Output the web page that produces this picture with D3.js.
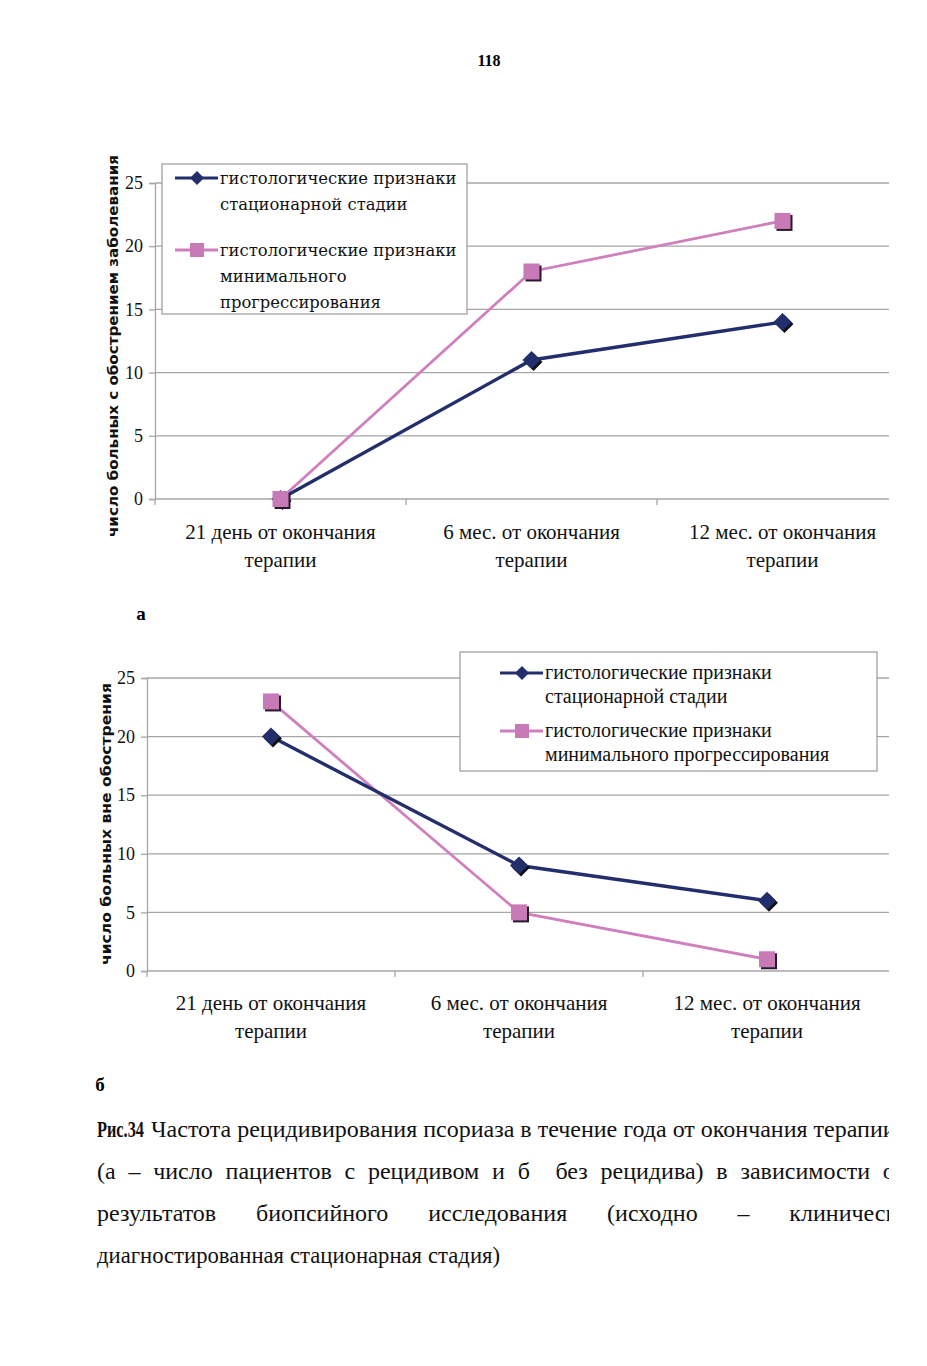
<!DOCTYPE html>
<html>
<head>
<meta charset="utf-8">
<script src="https://cdn.jsdelivr.net/npm/d3@7"></script>
<style>
  body { margin: 0; background: #fff; }
  svg { display: block; }
</style>
</head>
<body>
<svg id="page"></svg>
<script>
// categories on x axis (two lines each)
const categories = [
  ["21 день от окончания", "терапии"],
  ["6 мес. от окончания", "терапии"],
  ["12 мес. от окончания", "терапии"]
]
const yTicks = [0, 5, 10, 15, 20, 25]
const seriesNames = ["гистологические признаки стационарной стадии", "гистологические признаки минимального прогрессирования"]

// chart а - with exacerbation
const stationaryA = [0, 11, 14]
const progressA = [0, 18, 22]
// chart б - without exacerbation
const stationaryB = [20, 9, 6]
const progressB = [23, 5, 1]

const captionLines = [
  ["Частота", "рецидивирования", "псориаза", "в", "течение", "года", "от", "окончания", "терапии"],
  ["(а", "–", "число", "пациентов", "с", "рецидивом", "и", "б", "", "без", "рецидива)", "в", "зависимости", "от"],
  ["результатов", "биопсийного", "исследования", "(исходно", "–", "клинически"],
  ["диагностированная", "стационарная", "стадия)"]
]

const NAVY = "#232f6c", PINK = "#d07fbe", GRID = "#a6a6a6"

const svg = d3.select("#page").attr("width", 927).attr("height", 1366)
svg.append("defs").append("clipPath").attr("id", "pg")
  .append("rect").attr("x", 0).attr("y", 0).attr("width", 889).attr("height", 1366)
const root = svg.append("g").attr("clip-path", "url(#pg)")

// page number
root.append("text").attr("x", 489).attr("y", 66).attr("text-anchor", "middle")
  .style("font-family", "Liberation Serif").style("font-weight", "bold").style("font-size", "16px")
  .text("118")

function drawChart(cfg){
  const g = root.append("g")
  const x = d3.scaleBand().domain(d3.range(categories.length)).range([cfg.left, cfg.right])
  const y = d3.scaleLinear().domain([0, 25]).range([cfg.bottom, cfg.top])

  // grid lines
  g.append("g").selectAll("line").data(yTicks).join("line")
    .attr("x1", cfg.left).attr("x2", 889)
    .attr("y1", d => y(d)).attr("y2", d => y(d))
    .attr("stroke", GRID).attr("stroke-width", 1.3)

  // y axis
  const yAx = g.append("g").attr("transform", `translate(${cfg.left},0)`)
    .call(d3.axisLeft(y).tickValues(yTicks).tickSize(6).tickPadding(6))
  yAx.select(".domain").attr("stroke", GRID).attr("stroke-width", 1.3)
  yAx.selectAll(".tick line").attr("stroke", GRID).attr("stroke-width", 1.3)
  yAx.selectAll("text").style("font-family", "Liberation Serif").style("font-size", "18px").attr("fill", "#111")

  // x axis tick marks at band edges
  const edges = d3.range(categories.length + 1).map(i => cfg.left + i * x.step())
  g.append("g").selectAll("line").data(edges).join("line")
    .attr("x1", d => d).attr("x2", d => d)
    .attr("y1", cfg.bottom).attr("y2", cfg.bottom + 6)
    .attr("stroke", GRID).attr("stroke-width", 1.3)

  // category labels
  const lab = g.append("g").selectAll("text").data(categories).join("text")
    .attr("text-anchor", "middle")
    .style("font-family", "Liberation Serif").style("font-size", "21px").attr("fill", "#111")
  lab.each(function(d, i){
    d3.select(this).selectAll("tspan").data(d).join("tspan")
      .attr("x", x(i) + x.bandwidth() / 2)
      .attr("y", (t, j) => cfg.bottom + cfg.labOff + j * 27.5)
      .text(t => t)
  })

  // y title
  g.append("text")
    .attr("transform", `translate(${cfg.titleX},${(cfg.titleY0 + cfg.titleY1) / 2}) rotate(-90)`)
    .attr("text-anchor", "middle")
    .attr("textLength", cfg.titleY1 - cfg.titleY0).attr("lengthAdjust", "spacingAndGlyphs")
    .style("font-family", "DejaVu Sans").style("font-weight", "bold").style("font-size", "13.5px").attr("fill", "#111")
    .text(cfg.title)

  const line = d3.line().x((d, i) => x(i) + x.bandwidth() / 2).y(d => y(d))
  const cx = i => x(i) + x.bandwidth() / 2

  // pink series
  g.append("path").datum(cfg.pink).attr("d", line).attr("fill", "none")
    .attr("stroke", PINK).attr("stroke-width", 2.8)
  // navy series
  g.append("path").datum(cfg.navy).attr("d", line).attr("fill", "none")
    .attr("stroke", NAVY).attr("stroke-width", 3.4)

  const drawSquares = (data) => {
    const s = g.append("g").selectAll("g").data(data).join("g")
      .attr("transform", (d, i) => `translate(${cx(i)},${y(d)})`)
    s.append("rect").attr("x", -6).attr("y", -6).attr("width", 16).attr("height", 16).attr("fill", "#2a1a30")
    s.append("rect").attr("x", -8).attr("y", -8).attr("width", 16).attr("height", 16).attr("fill", "#c77ab6")
  }
  const drawDiamonds = (data) => {
    const s = g.append("g").selectAll("g").data(data).join("g")
      .attr("transform", (d, i) => `translate(${cx(i)},${y(d)})`)
    s.append("path").attr("d", "M0,-9L9,0L0,9L-9,0Z").attr("transform", "translate(2,2)").attr("fill", "#111")
    s.append("path").attr("d", "M0,-9L9,0L0,9L-9,0Z").attr("fill", NAVY)
  }
  if (cfg.navyOnTop) { drawSquares(cfg.pink); drawDiamonds(cfg.navy) }
  else { drawDiamonds(cfg.navy); drawSquares(cfg.pink) }

  // legend
  const L = cfg.legend
  const lg = g.append("g")
  lg.append("rect").attr("x", L.x).attr("y", L.y).attr("width", L.w).attr("height", L.h)
    .attr("fill", "#fff").attr("stroke", "#9a9a9a").attr("stroke-width", 1.2)
  const entries = [
    { color: NAVY, lines: L.lines[0], y: L.rows[0], mark: "d" },
    { color: PINK, lines: L.lines[1], y: L.rows[1], mark: "s" }
  ]
  entries.forEach(e => {
    lg.append("line").attr("x1", L.symX).attr("x2", L.symX + 43)
      .attr("y1", e.y).attr("y2", e.y).attr("stroke", e.color).attr("stroke-width", 3.2)
    if (e.mark === "d") {
      lg.append("path").attr("d", "M0,-7L7,0L0,7L-7,0Z")
        .attr("transform", `translate(${L.symX + 22},${e.y})`).attr("fill", e.color)
    } else {
      lg.append("rect").attr("x", L.symX + 15).attr("y", e.y - 7).attr("width", 14).attr("height", 14).attr("fill", "#c77ab6")
    }
    lg.append("text").style("font-family", L.font).style("font-size", L.size + "px").attr("fill", "#111")
      .selectAll("tspan").data(e.lines).join("tspan")
      .attr("x", L.symX + 45).attr("y", (t, j) => e.y + 6 + j * L.lh).text(t => t)
  })
}

drawChart({
  left: 155, right: 908, top: 183, bottom: 499, labOff: 40,
  title: "число больных с обострением заболевания", titleX: 118, titleY0: 155, titleY1: 537,
  navy: stationaryA, pink: progressA, navyOnTop: false,
  legend: { x: 162, y: 164, w: 305, h: 150, symX: 175, rows: [178, 250], lh: 26,
    font: "DejaVu Serif", size: 16.4,
    lines: [["гистологические признаки", "стационарной стадии"], ["гистологические признаки", "минимального", "прогрессирования"]] }
})

drawChart({
  left: 147, right: 891, top: 678, bottom: 971, labOff: 39,
  title: "число больных вне обострения", titleX: 111, titleY0: 683, titleY1: 965,
  navy: stationaryB, pink: progressB, navyOnTop: true,
  legend: { x: 460, y: 652, w: 417, h: 119, symX: 500, rows: [673, 731], lh: 24,
    font: "Liberation Serif", size: 20,
    lines: [["гистологические признаки", "стационарной стадии"], ["гистологические признаки", "минимального прогрессирования"]] }
})

// sub-figure labels
root.append("text").attr("x", 141).attr("y", 620).attr("text-anchor", "middle")
  .style("font-family", "Liberation Serif").style("font-weight", "bold").style("font-size", "19px").text("а")
root.append("text").attr("x", 100).attr("y", 1091).attr("text-anchor", "middle")
  .style("font-family", "Liberation Serif").style("font-weight", "bold").style("font-size", "19px").text("б")

// caption
const cap = root.append("g").style("font-family", "Liberation Serif").style("font-size", "24px").attr("fill", "#111")
cap.append("g").attr("transform", "translate(97,1137) scale(0.68,1)")
  .append("text").attr("x", 0).attr("y", 0)
  .style("font-weight", "bold").text("Рис.34")

const lineSpec = [
  { y: 1137, x0: 151, x1: 2000, justify: false },
  { y: 1179, x0: 97, x1: 905, justify: true },
  { y: 1221, x0: 97, x1: 910, justify: true },
  { y: 1263, x0: 97, x1: 500, justify: false }
]
captionLines.forEach((words, li) => {
  const spec = lineSpec[li]
  const tg = cap.append("g")
  const nodes = words.map(w => tg.append("text").attr("y", spec.y).text(w))
  const widths = nodes.map(n => n.node().getComputedTextLength())
  const total = d3.sum(widths)
  const gap = spec.justify ? (spec.x1 - spec.x0 - total) / (words.length - 1) : 6
  let scale = 1
  if (!spec.justify) scale = Math.min(1, (spec.x1 - spec.x0 - gap * (words.length - 1)) / total)
  let cur = spec.x0
  nodes.forEach((n, i) => {
    n.attr("x", cur)
    if (scale < 1) n.attr("textLength", widths[i] * scale).attr("lengthAdjust", "spacingAndGlyphs")
    cur += widths[i] * scale + gap
  })
})
</script>
</body>
</html>
